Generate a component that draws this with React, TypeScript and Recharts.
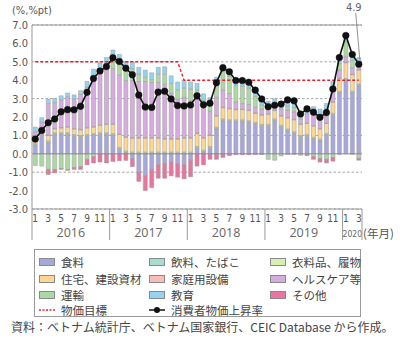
import React from 'react';
import { ComposedChart, Bar, Line, XAxis, YAxis, CartesianGrid, ReferenceLine, LabelList } from 'recharts';

// ---- categories ----
const yearList = [2016, 2017, 2018, 2019, 2020];
const monthsInYear = [12, 12, 12, 12, 3];
const yTicks = [-3, -2, -1, 0, 1, 2, 3, 4, 5, 6, 7];

// ---- series (contributions, %pt) ----
const food = [
  0.45, 1.0, 0.6, 1.05, 1.05, 1.05, 0.95, 0.9, 0.95, 1.0, 1.05, 1.05,
  1.0, 0.25, 0.05, -0.27, -1.0, -1.2, -0.85, -0.6, -0.55, -0.45, -0.55, -0.6,
  -0.35, 0.3, 0.1, 0.3, 1.35, 1.8, 1.75, 1.75, 1.75, 1.7, 1.6, 1.5,
  1.5, 1.8, 1.45, 1.25, 1.1, 0.9, 0.95, 0.8, 0.7, 1.0, 2.1, 3.3,
  4.0, 3.3, 3.7,
];
const beverage = [
  0.05, 0.05, 0.05, 0.05, 0.05, 0.05, 0.05, 0.05, 0.05, 0.05, 0.05, 0.05,
  0.05, 0.05, 0.05, 0.05, 0.05, 0.05, 0.05, 0.05, 0.05, 0.05, 0.05, 0.05,
  0.05, 0.05, 0.05, 0.05, 0.05, 0.05, 0.05, 0.05, 0.05, 0.05, 0.05, 0.05,
  0.05, 0.05, 0.05, 0.05, 0.05, 0.05, 0.05, 0.05, 0.05, 0.05, 0.05, 0.05,
  0.05, 0.05, 0.05,
];
const clothing = [
  0.05, 0.05, 0.05, 0.05, 0.05, 0.05, 0.05, 0.05, 0.05, 0.05, 0.05, 0.05,
  0.05, 0.05, 0.05, 0.05, 0.05, 0.05, 0.05, 0.05, 0.05, 0.05, 0.05, 0.05,
  0.05, 0.05, 0.05, 0.05, 0.05, 0.05, 0.05, 0.05, 0.05, 0.05, 0.05, 0.05,
  0.05, 0.05, 0.05, 0.05, 0.05, 0.05, 0.05, 0.05, 0.05, 0.05, 0.05, 0.05,
  0.05, 0.05, 0.05,
];
const housing = [
  0.12, 0.1, 0.3, 0.2, 0.25, 0.3, 0.3, 0.3, 0.35, 0.35, 0.4, 0.45,
  0.5, 0.7, 0.75, 0.75, 0.75, 0.75, 0.75, 0.75, 0.7, 0.7, 0.7, 0.75,
  0.75, 0.7, 0.65, 0.6, 0.6, 0.6, 0.6, 0.55, 0.55, 0.55, 0.5, 0.5,
  0.55, 0.45, 0.5, 0.6, 0.65, 0.6, 0.6, 0.6, 0.55, 0.55, 0.6, 0.7,
  0.85, 0.9, 0.75,
];
const household = [
  0.03, 0.03, 0.03, 0.03, 0.03, 0.03, 0.03, 0.03, 0.03, 0.03, 0.03, 0.03,
  0.03, 0.03, 0.03, 0.03, 0.03, 0.03, 0.03, 0.03, 0.03, 0.03, 0.03, 0.03,
  0.03, 0.03, 0.03, 0.03, 0.03, 0.03, 0.03, 0.03, 0.03, 0.03, 0.03, 0.03,
  0.03, 0.03, 0.03, 0.03, 0.03, 0.03, 0.03, 0.03, 0.03, 0.03, 0.03, 0.03,
  0.03, 0.03, 0.03,
];
const health = [
  0.5, 0.5, 1.7, 1.4, 1.5, 1.62, 1.6, 1.9, 2.2, 2.75, 2.95, 3.0,
  3.0, 3.2, 3.05, 3.1, 3.05, 3.05, 3.0, 3.0, 2.95, 2.45, 2.15, 2.2,
  2.0, 1.85, 1.6, 1.3, 1.0, 0.95, 0.8, 0.38, 0.3, 0.3, 0.3, 0.3,
  0.3, 0.23, 0.35, 0.4, 0.4, 0.25, 0.5, 0.65, 0.7, 0.7, 0.75, 0.42,
  0.3, 0.35, 0.3,
];
const transport = [
  -0.64, -0.67, -0.85, -0.85, -0.8, -0.85, -0.75, -0.7, -0.3, -0.15, 0.05, 0.25,
  0.65, 0.75, 0.65, 0.65, 0.4, 0.25, 0.15, 0.45, 0.55, 0.55, 0.5, 0.5,
  0.65, 0.5, 0.45, 0.4, 0.75, 1.05, 0.95, 0.9, 0.95, 0.9, 0.6, 0.22,
  -0.3, -0.35, -0.12, 0.2, 0.24, -0.08, -0.05, -0.15, -0.25, -0.3, -0.2, 0.35,
  0.82, 0.39, -0.25,
];
const education = [
  0.25, 0.23, 0.23, 0.22, 0.22, 0.2, 0.22, 0.2, 0.3, 0.37, 0.37, 0.36,
  0.36, 0.37, 0.37, 0.37, 0.37, 0.37, 0.37, 0.37, 0.4, 0.41, 0.42, 0.42,
  0.37, 0.34, 0.33, 0.32, 0.33, 0.34, 0.33, 0.32, 0.35, 0.36, 0.37, 0.37,
  0.38, 0.38, 0.39, 0.38, 0.38, 0.36, 0.36, 0.38, 0.35, 0.36, 0.34, 0.35,
  0.35, 0.35, 0.34,
];
const other = [
  0, 0, -0.28, -0.19, -0.05, -0.05, -0.1, -0.15, -0.3, -0.35, -0.45, -0.5,
  -0.42, -0.38, -0.36, -0.43, -0.5, -0.8, -0.99, -0.73, -0.78, -0.75, -0.72, -0.76,
  -0.9, -0.67, -0.6, -0.3, -0.3, -0.2, -0.1, -0.05, -0.05, -0.05, -0.04, -0.04,
  0, 0, 0, -0.03, -0.02, 0, -0.05, -0.15, -0.2, -0.2, -0.2, -0.02,
  0, -0.02, -0.1,
];
const cpi = [
  0.8, 1.27, 1.69, 1.89, 2.28, 2.4, 2.39, 2.58, 3.34, 4.09, 4.5, 4.74,
  5.22, 5.02, 4.65, 4.3, 3.19, 2.54, 2.52, 3.35, 3.4, 2.98, 2.62, 2.6,
  2.65, 3.15, 2.66, 2.75, 3.86, 4.67, 4.46, 3.98, 3.98, 3.89, 3.46, 2.98,
  2.56, 2.64, 2.7, 2.93, 2.88, 2.16, 2.44, 2.26, 1.98, 2.24, 3.52, 5.23,
  6.43, 5.4, 4.87,
];
const target = [
  5, 5, 5, 5, 5, 5, 5, 5, 5, 5, 5, 5,
  5, 5, 5, 5, 5, 5, 5, 5, 5, 5, 5, 4,
  4, 4, 4, 4, 4, 4, 4, 4, 4, 4, 4, 4,
  4, 4, 4, 4, 4, 4, 4, 4, 4, 4, 4, 4,
  4, 4, 4,
];

const seriesDefs = [
  { key: 'food', name: '食料', color: '#a8a7db', values: food },
  { key: 'beverage', name: '飲料、たばこ', color: '#a7dccf', values: beverage },
  { key: 'clothing', name: '衣料品、履物', color: '#d7efb2', values: clothing },
  { key: 'housing', name: '住宅、建設資材', color: '#fdd693', values: housing },
  { key: 'household', name: '家庭用設備', color: '#f7bdb7', values: household },
  { key: 'health', name: 'ヘルスケア等', color: '#d6abde', values: health },
  { key: 'transport', name: '運輸', color: '#acd9a3', values: transport },
  { key: 'education', name: '教育', color: '#94d4f2', values: education },
  { key: 'other', name: 'その他', color: '#e9749f', values: other },
];

const monthNums: number[] = [];
const yearOfIdx: number[] = [];
yearList.forEach((yr, yi) => {
  for (let m = 1; m <= monthsInYear[yi]; m++) {
    monthNums.push(m);
    yearOfIdx.push(yi);
  }
});

const data = monthNums.map((m, i) => {
  const row: any = { key: `${yearList[yearOfIdx[i]]}-${m}`, cpi: cpi[i], target: target[i] };
  seriesDefs.forEach((s) => { row[s.key] = s.values[i]; });
  return row;
});

const NUM_FONT = "'Liberation Sans Narrow','DejaVu Sans Condensed',Roboto,sans-serif";
const JP_FONT = "'Noto Sans CJK JP','Noto Sans',sans-serif";
const GRAY = '#999';

const MonthTick = (props: any) => {
  const { x, y, payload } = props;
  const i: number = props.index ?? payload.index;
  const off: number = payload && payload.offset ? payload.offset : 330 / 51 / 2;
  const m = monthNums[i];
  const yi = yearOfIdx[i];
  const els: any[] = [];
  if (m % 2 === 1) {
    els.push(
      <text key="m" x={x} y={y + 13} textAnchor="middle" fontSize={10} fill="#555" fontFamily={NUM_FONT}>{m}</text>
    );
  }
  if (m === 1) {
    const n = monthsInYear[yi];
    els.push(<line key="s" x1={x - off} x2={x - off} y1={y} y2={y + 31} stroke={GRAY} strokeWidth={1} />);
    const small = n < 6;
    els.push(
      <text key="y" x={x - off + n * off} y={y + 28} textAnchor="middle" fontSize={small ? 8.5 : 12.5}
        fill="#666" fontWeight={400} fontFamily={small ? NUM_FONT : "'Open Sans','DejaVu Sans',sans-serif"}>{yearList[yi]}</text>
    );
  }
  if (i === monthNums.length - 1) {
    els.push(<line key="e" x1={x + off} x2={x + off} y1={y} y2={y + 31} stroke={GRAY} strokeWidth={1} />);
  }
  return <g>{els}</g>;
};

const CpiLabel = (props: any) => {
  const { x, y, value, index } = props;
  if (index !== cpi.length - 1) return null;
  return (
    <g>
      <line x1={x + 1} y1={y - 5} x2={x - 3} y2={13} stroke="#777" strokeWidth={0.8} />
      <text x={x - 5} y={11} textAnchor="middle" fontSize={11} fill="#666" fontFamily={NUM_FONT}>
        {Number(value).toFixed(1)}
      </text>
    </g>
  );
};

const legendRows = [
  [seriesDefs[0], seriesDefs[1], seriesDefs[2]],
  [seriesDefs[3], seriesDefs[4], seriesDefs[5]],
  [seriesDefs[6], seriesDefs[7], seriesDefs[8]],
];
const colX = [4, 114, 235];
const rowY = [12, 28.5, 44.5, 59.5];

export default function App() {
  return (
    <div style={{ position: 'fixed', left: 0, top: 0, width: 400, height: 340, background: '#fff', overflow: 'hidden' }}>
      <ComposedChart
        width={400}
        height={340}
        data={data}
        margin={{ top: 25, right: 38, bottom: 100, left: 0 }}
        stackOffset="sign"
        barCategoryGap="20%"
      >
        <CartesianGrid vertical={false} stroke="#8c8c8c" strokeDasharray="2.5 2" strokeWidth={0.8} />
        <XAxis
          dataKey="key"
          interval={0}
          height={31}
          tickLine={false}
          tickSize={0}
          tickMargin={0}
          axisLine={{ stroke: GRAY }}
          tick={(p: any) => <MonthTick {...p} />}
        />
        <YAxis
          domain={[-3, 7]}
          ticks={yTicks}
          width={32}
          tickLine={false}
          tickSize={2}
          tickMargin={2}
          axisLine={{ stroke: GRAY }}
          tickFormatter={(v: number) => v.toFixed(1)}
          tick={{ fontSize: 11, fill: '#555', fontFamily: NUM_FONT }}
        />
        <YAxis yAxisId="r" orientation="right" domain={[-3, 7]} width={0} tick={false} tickLine={false} axisLine={{ stroke: GRAY }} />
        <ReferenceLine y={7} stroke={GRAY} strokeWidth={1} />
        <ReferenceLine y={0} stroke="#8a8a8a" strokeWidth={1} />
        {seriesDefs.map((s) => (
          <Bar key={s.key} dataKey={s.key} name={s.name} stackId="a" fill={s.color}
            stroke="#9a9a9a" strokeWidth={0.5} isAnimationActive={false} />
        ))}
        <Line dataKey="target" name="物価目標" stroke="#e8202a" strokeWidth={1.4} strokeDasharray="3 2"
          dot={false} isAnimationActive={false} type="linear" />
        <Line dataKey="cpi" name="消費者物価上昇率" stroke="#111" strokeWidth={1.6} type="linear"
          dot={{ r: 3.3, fill: '#111', stroke: '#111', strokeWidth: 0.5 }} isAnimationActive={false}>
          <LabelList dataKey="cpi" content={(p: any) => <CpiLabel {...p} />} />
        </Line>
      </ComposedChart>

      <div style={{ position: 'absolute', left: 12, top: 4, fontSize: 11, color: '#555', fontFamily: NUM_FONT }}>(%,%pt)</div>
      <div style={{ position: 'absolute', left: 363, top: 225, fontSize: 11.5, color: '#555', fontFamily: JP_FONT }}>(年月)</div>

      <div style={{ position: 'absolute', left: 34, top: 249, width: 327, height: 68, border: '1px solid #999', boxSizing: 'border-box' }}>
        {legendRows.map((row, ri) =>
          row.map((s, ci) => (
            <div key={s.key} style={{ position: 'absolute', left: colX[ci], top: rowY[ri] - 8, height: 16, display: 'flex', alignItems: 'center' }}>
              <div style={{ width: 16, height: 8, background: s.color, border: '1px solid #8a8a8a', boxSizing: 'border-box' }} />
              <span style={{ marginLeft: 6, fontSize: 11.5, color: '#444', fontFamily: JP_FONT, whiteSpace: 'nowrap' }}>{s.name}</span>
            </div>
          ))
        )}
        <div style={{ position: 'absolute', left: colX[0], top: rowY[3] - 8, height: 16, display: 'flex', alignItems: 'center' }}>
          <svg width={16} height={8}><line x1={0} x2={16} y1={4} y2={4} stroke="#e8202a" strokeWidth={1.4} strokeDasharray="2 1.5" /></svg>
          <span style={{ marginLeft: 6, fontSize: 11.5, color: '#444', fontFamily: JP_FONT, whiteSpace: 'nowrap' }}>物価目標</span>
        </div>
        <div style={{ position: 'absolute', left: colX[1], top: rowY[3] - 8, height: 16, display: 'flex', alignItems: 'center' }}>
          <svg width={16} height={8}><line x1={0} x2={16} y1={4} y2={4} stroke="#111" strokeWidth={1.5} /><circle cx={8} cy={4} r={3} fill="#111" /></svg>
          <span style={{ marginLeft: 6, fontSize: 11.5, color: '#444', fontFamily: JP_FONT, whiteSpace: 'nowrap' }}>消費者物価上昇率</span>
        </div>
      </div>

      <div style={{ position: 'absolute', left: 11, top: 318, fontSize: 12, color: '#444', fontFamily: JP_FONT, whiteSpace: 'nowrap' }}>
        資料：ベトナム統計庁、ベトナム国家銀行、CEIC Database から作成。
      </div>
    </div>
  );
}
